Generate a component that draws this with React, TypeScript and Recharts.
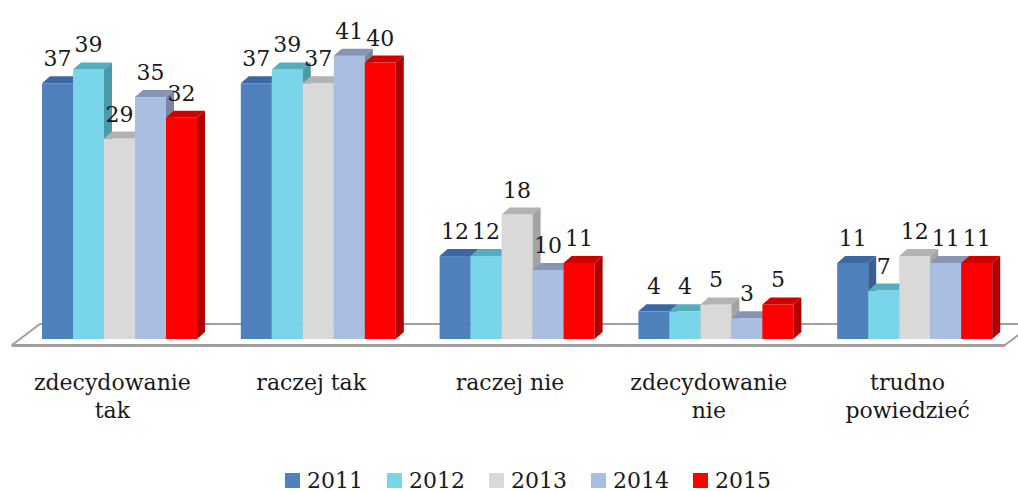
import * as Recharts from 'recharts';
import { Bar, BarChart, LabelList, Legend, XAxis, YAxis } from 'recharts';

const categories = [
  'zdecydowanie tak',
  'raczej tak',
  'raczej nie',
  'zdecydowanie nie',
  'trudno powiedzieć',
];
const categoryLines = [
  ['zdecydowanie', 'tak'],
  ['raczej tak'],
  ['raczej nie'],
  ['zdecydowanie', 'nie'],
  ['trudno', 'powiedzieć'],
];
const years = ['2011', '2012', '2013', '2014', '2015'];
const v2011 = [37, 37, 12, 4, 11];
const v2012 = [39, 39, 12, 4, 7];
const v2013 = [29, 37, 18, 5, 12];
const v2014 = [35, 41, 10, 3, 11];
const v2015 = [32, 40, 11, 5, 11];

const seriesValues = [v2011, v2012, v2013, v2014, v2015];
const palette = [
  { front: '#4f81bd', top: '#3c67a0', side: '#385f94' },
  { front: '#79d6ea', top: '#55aebf', side: '#4b9aab' },
  { front: '#d9d9d9', top: '#b3b3b3', side: '#a3a3a3' },
  { front: '#a9bee0', top: '#8595b3', side: '#7786a3' },
  { front: '#ff0000', top: '#d00000', side: '#b00000' },
];

const data = categories.map((name, i) => {
  const row: Record<string, string | number> = { name };
  years.forEach((y, s) => {
    row[y] = seriesValues[s][i];
  });
  return row;
});

const DX = 8;
const DY = 7;
const FONT = '"DejaVu Serif", serif';

function Bar3D(colors: { front: string; top: string; side: string }) {
  return (props: any) => {
    const { x, y, width, height } = props;
    if (height == null || width == null) return null;
    const r = x + width;
    const b = y + height;
    return (
      <g>
        <rect x={x} y={y} width={width} height={height} fill={colors.front} />
        <polygon
          points={`${x},${y} ${r},${y} ${r + DX},${y - DY} ${x + DX},${y - DY}`}
          fill={colors.top}
        />
        <polygon
          points={`${r},${y} ${r + DX},${y - DY} ${r + DX},${b - DY} ${r},${b}`}
          fill={colors.side}
        />
      </g>
    );
  };
}

function ValueLabel(props: any) {
  const { x, y, width, value } = props;
  return (
    <text
      x={x + width / 2}
      y={y - 17}
      textAnchor='middle'
      fontFamily={FONT}
      fontSize={22}
      fill='#1a1a1a'
    >
      {value}
    </text>
  );
}

function CategoryTick(props: any) {
  const { x, y, payload } = props;
  const lines = categoryLines[payload.index] ?? [payload.value];
  return (
    <text
      x={x - 7}
      y={y}
      textAnchor='middle'
      fontFamily={FONT}
      fontSize={22}
      fill='#1a1a1a'
    >
      {lines.map((l, i) => (
        <tspan key={i} x={x - 7} y={y + 51 + i * 28}>
          {l}
        </tspan>
      ))}
    </text>
  );
}

// platform under the bars
function Floor() {
  const hook = (Recharts as any).usePlotArea ?? (Recharts as any).useOffset;
  const area = hook ? hook() : null;
  const left = area ? area.x ?? area.left : 20;
  const top = area ? area.y ?? area.top : 28;
  const h = area ? area.height : 311;
  const w = area ? area.width : 994;
  const bottom = top + h;
  const backY = bottom - 15;
  const frontY = bottom + 6;
  const fl = left - 8;
  const bl = left + 20;
  const fr = left + w - 9;
  const br = left + w + 19;
  return (
    <g>
      <polygon
        points={`${bl},${backY} ${br},${backY} ${fr},${frontY} ${fl},${frontY}`}
        fill='#ffffff'
        stroke='#a0a0a0'
        strokeWidth={2}
        strokeLinejoin='round'
      />
      <line x1={fl} y1={frontY + 0.5} x2={fr} y2={frontY + 0.5} stroke='#a0a0a0' strokeWidth={3} />
    </g>
  );
}

function LegendContent() {
  return (
    <div
      style={{
        display: 'flex',
        justifyContent: 'center',
        alignItems: 'center',
        height: 30,
        paddingLeft: 38,
        fontFamily: FONT,
        fontSize: 22,
        color: '#1a1a1a',
      }}
    >
      {years.map((y, i) => (
        <div
          key={y}
          style={{
            display: 'flex',
            alignItems: 'center',
            marginRight: i < years.length - 1 ? 24 : 0,
          }}
        >
          <span
            style={{
              display: 'inline-block',
              width: 15,
              height: 15,
              background: palette[i].front,
              marginRight: 7,
            }}
          />
          <span>{y}</span>
        </div>
      ))}
    </div>
  );
}

export default function App() {
  return (
    <div style={{ position: 'absolute', left: 0, top: 0, background: '#fff' }}>
      <BarChart
        width={1018}
        height={491}
        data={data}
        margin={{ top: 28, right: 4, left: 20, bottom: 32 }}
        barCategoryGap={22}
        barGap={0}
      >
        <Floor />
        <XAxis
          dataKey='name'
          axisLine={false}
          tickLine={false}
          tickSize={0}
          tickMargin={0}
          height={90}
          interval={0}
          tick={<CategoryTick />}
        />
        <YAxis hide domain={[0, 45]} />
        <Legend
          verticalAlign='bottom'
          content={<LegendContent />}
          wrapperStyle={{ top: 465, bottom: 'auto', left: 0, width: 1018, height: 30 }}
        />
        {years.map((y, i) => (
          <Bar
            key={y}
            dataKey={y}
            fill={palette[i].front}
            shape={Bar3D(palette[i])}
            isAnimationActive={false}
          >
            <LabelList dataKey={y} content={<ValueLabel />} />
          </Bar>
        ))}
      </BarChart>
    </div>
  );
}
